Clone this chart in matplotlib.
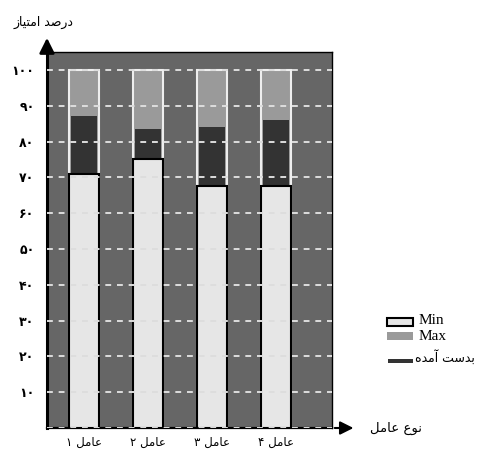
import numpy as np
import matplotlib.pyplot as plt
from matplotlib.patches import Rectangle

# data
factors = ["عامل ۱", "عامل ۲", "عامل ۳", "عامل ۴"]
min_vals = [71, 75, 67.5, 67.5]
achieved_vals = [87, 83.5, 84, 86]
max_vals = [100, 100, 100, 100]
y_ticks = [10, 20, 30, 40, 50, 60, 70, 80, 90, 100]
y_tick_labels = ["۱۰", "۲۰", "۳۰", "۴۰", "۵۰", "۶۰", "۷۰", "۸۰", "۹۰", "۱۰۰"]

# minimal arabic shaping (matplotlib has no bidi / shaping)
FORMS = {
    "ا": ("\ufe8d", "\ufe8e"), "آ": ("\ufe81", "\ufe82"),
    "د": ("\ufea9", "\ufeaa"), "ر": ("\ufead", "\ufeae"),
    "ز": ("\ufeaf", "\ufeb0"), "و": ("\ufeed", "\ufeee"),
    "ب": ("\ufe8f", "\ufe90", "\ufe91", "\ufe92"),
    "ت": ("\ufe95", "\ufe96", "\ufe97", "\ufe98"),
    "س": ("\ufeb1", "\ufeb2", "\ufeb3", "\ufeb4"),
    "ص": ("\ufeb9", "\ufeba", "\ufebb", "\ufebc"),
    "ع": ("\ufec9", "\ufeca", "\ufecb", "\ufecc"),
    "ل": ("\ufedd", "\ufede", "\ufedf", "\ufee0"),
    "م": ("\ufee1", "\ufee2", "\ufee3", "\ufee4"),
    "ن": ("\ufee5", "\ufee6", "\ufee7", "\ufee8"),
    "ه": ("\ufee9", "\ufeea", "\ufeeb", "\ufeec"),
    "ی": ("\ufbfc", "\ufbfd", "\ufef3", "\ufef4"),
}


def shape_word(w):
    out = []
    for i, c in enumerate(w):
        f = FORMS.get(c)
        if f is None:
            out.append(c)
            continue
        prev = i > 0 and w[i - 1] in FORMS and len(FORMS[w[i - 1]]) == 4
        nxt = i < len(w) - 1 and w[i + 1] in FORMS and len(f) == 4
        if prev and nxt:
            out.append(f[3])
        elif prev:
            out.append(f[1])
        elif nxt:
            out.append(f[2])
        else:
            out.append(f[0])
    return "".join(reversed(out))


def rtl(text):
    words = text.split(" ")
    words = [shape_word(w) if any(c in FORMS for c in w) else w for w in words]
    return " ".join(reversed(words))


plt.rcParams["font.family"] = ["DejaVu Sans"]

W, H = 491, 455
fig = plt.figure(figsize=(W / 100, H / 100), dpi=100)


def px(x, y):
    return x / W, 1 - y / H


ax = fig.add_axes([47 / W, 1 - 428 / H, 285 / W, 376 / H])
ax.set_facecolor("#666666")

x = np.arange(1, len(factors) + 1)
ax.bar(x, max_vals, width=0.47, color="#9a9a9a", edgecolor="#eeeeee",
       linewidth=1.5, zorder=2)
ax.bar(x, achieved_vals, width=0.41, color="#333333", linewidth=0, zorder=3)
ax.bar(x, min_vals, width=0.47, color="#e6e6e6", edgecolor="black",
       linewidth=1.5, zorder=4)

ax.set_xlim(0.42, 4.87)
ax.set_ylim(0, 105)
ax.set_yticks(y_ticks)
ax.set_yticklabels(y_tick_labels, fontsize=9, fontweight="bold")
ax.set_xticks(x)
ax.set_xticklabels([rtl(f) for f in factors], fontsize=8.5)
ax.tick_params(length=0)
ax.tick_params(axis="y", pad=9)
ax.tick_params(axis="x", pad=6)

for v in [0] + y_ticks:
    ax.axhline(v, color="#dddddd", linestyle=(0, (3, 3)), linewidth=1.4,
               zorder=5)

for side in ["top", "right"]:
    ax.spines[side].set_linewidth(1.0)
ax.spines["left"].set_linewidth(2.2)
ax.spines["bottom"].set_linewidth(1.6)

# axis arrows
ax.annotate("", xy=(0, 1.045), xytext=(0, 1.0), xycoords="axes fraction",
            arrowprops=dict(arrowstyle="-|>,head_width=0.45,head_length=0.9",
                            color="black", lw=2), annotation_clip=False)
ax.annotate("", xy=(1.085, 0), xytext=(1.0, 0), xycoords="axes fraction",
            arrowprops=dict(arrowstyle="-|>,head_width=0.4,head_length=0.8",
                            color="black", lw=1.5), annotation_clip=False)

fig.text(*px(44, 22), rtl("درصد امتیاز"), fontsize=9, ha="center",
         va="center")
fig.text(*px(396, 428), rtl("نوع عامل"), fontsize=9.5, ha="center",
         va="center")

# legend
fig.add_artist(Rectangle(px(387, 326), 26 / W, 8 / H, transform=fig.transFigure,
                         facecolor="#e6e6e6", edgecolor="black", lw=1.5))
fig.add_artist(Rectangle(px(387, 340), 26 / W, 8 / H, transform=fig.transFigure,
                         facecolor="#9a9a9a", edgecolor="none"))
fig.add_artist(Rectangle(px(388, 363), 25 / W, 4 / H, transform=fig.transFigure,
                         facecolor="#333333", edgecolor="none"))
fig.text(*px(419, 321), "Min", family="Liberation Serif", fontsize=11,
         va="center")
fig.text(*px(419, 337), "Max", family="Liberation Serif", fontsize=11,
         va="center")
fig.text(*px(415, 357), rtl("بدست آمده"), fontsize=9, va="center")

fig.savefig("out.png", dpi=100)
